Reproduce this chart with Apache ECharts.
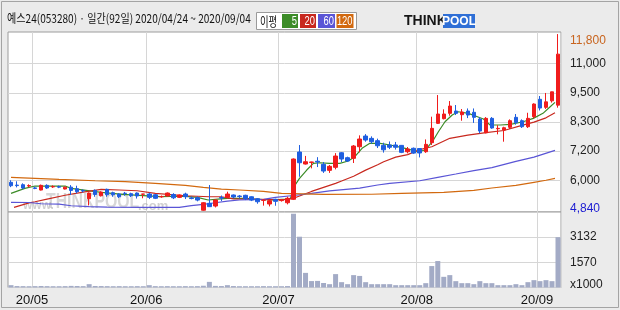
<!DOCTYPE html>
<html><head><meta charset="utf-8">
<script src="https://cdn.jsdelivr.net/npm/echarts@6/dist/echarts.min.js"></script>
<style>html,body{margin:0;padding:0;background:#ebebeb;}#c{width:620px;height:310px;}</style>
</head><body><div id="c"></div>
<script>
const year = '20';
const dates = ['04/24','04/27','04/28','04/29','05/04','05/06','05/07','05/08','05/11','05/12','05/13','05/14','05/15','05/18','05/19','05/20','05/21','05/22','05/25','05/26','05/27','05/28','05/29','06/01','06/02','06/03','06/04','06/05','06/08','06/09','06/10','06/11','06/12','06/15','06/16','06/17','06/18','06/19','06/22','06/23','06/24','06/25','06/26','06/29','06/30','07/01','07/02','07/03','07/06','07/07','07/08','07/09','07/10','07/13','07/14','07/15','07/16','07/17','07/20','07/21','07/22','07/23','07/24','07/27','07/28','07/29','07/30','07/31','08/03','08/04','08/05','08/06','08/07','08/10','08/11','08/12','08/13','08/14','08/18','08/19','08/20','08/21','08/24','08/25','08/26','08/27','08/28','08/31','09/01','09/02','09/03','09/04'];

const opens = [5960,5850,5865,5815,5740,5655,5840,5780,5790,5695,
 5770,5707,5640,5313,5640,5430,5683,5550,5498,5530,
 5510,5537,5490,5498,5470,5390,5420,5480,5367,5498,
 5345,5350,4860,5132,5025,5360,5367,5460,5420,5447,
 5390,5313,5250,5105,5290,5240,5155,5290,7153,6680,
 6745,6790,6668,6431,6550,7125,6930,6904,7362,7783,
 7691,7600,7415,7430,7430,7415,7165,7300,7290,7165,
 7520,8283,8466,8677,8768,8623,8768,8718,8453,7911,
 8480,8070,8020,8125,8520,8388,8150,8545,9230,8913,
 9170,9000];
const closes = [5825,5830,5735,5830,5720,5840,5735,5790,5770,5770,
 5640,5590,5620,5537,5480,5577,5470,5470,5392,5515,
 5430,5420,5500,5367,5330,5400,5537,5350,5460,5392,
 5320,5260,5155,5000,5262,5340,5498,5380,5400,5313,
 5260,5195,5262,5235,5210,5262,5330,6877,6731,6770,
 6760,6760,6404,6589,6995,6877,6800,7390,7665,7625,
 7560,7400,7240,7340,7340,7140,7270,7110,7115,7455,
 8086,8650,8650,8965,8678,8730,8610,8520,7980,8480,
 8100,8086,8110,8388,8310,8150,8480,9044,8886,9130,
 9525,11010];
const lows = [5770,5760,5690,5760,5690,5640,5700,5740,5730,5680,
 5460,5525,5560,5050,5390,5400,5390,5390,5340,5430,
 5380,5320,5330,5300,5300,5350,5400,5300,5340,5300,
 5290,5210,4840,4990,4970,5220,5320,5330,5330,5260,
 5220,5116,5040,5010,5036,5200,5090,5262,6180,6660,
 6510,6560,6330,6330,6470,6760,6760,6720,7140,7560,
 7480,7310,7130,7270,7250,7110,7100,7080,6940,7120,
 7430,8257,8440,8584,8610,8386,8490,8300,7890,7890,
 8070,7850,7560,8060,8230,8100,8100,8480,8790,8850,
 9100,8900];
const highs = [6040,6000,5920,5880,5790,5870,5880,5840,5830,5790,
 5850,5825,5680,5560,5680,5600,5710,5590,5530,5580,
 5550,5560,5500,5550,5500,5440,5560,5530,5480,5550,
 5400,5400,5180,5853,5290,5440,5590,5480,5460,5470,
 5410,5340,5290,5290,5315,5300,5390,6900,7428,7000,
 6770,6950,6760,6640,7110,7150,6970,7428,7810,7860,
 7770,7680,7520,7570,7550,7430,7350,7330,7300,7650,
 8545,9398,8835,9162,9005,8847,8870,8870,8530,8530,
 8530,8210,8150,8440,8650,8440,8700,9070,9360,9480,
 9530,11800];
// volume, x1000 shares
const volumes = [145,90,85,80,85,95,85,80,80,85,
 100,95,85,207,95,90,85,80,85,80,
 80,85,80,145,85,80,85,80,80,85,
 80,85,110,350,100,90,145,90,80,80,
 80,80,85,80,80,80,90,4590,3160,910,
 400,410,280,207,833,332,207,770,720,332,
 207,207,207,207,145,145,145,145,145,270,
 1334,1647,665,770,395,270,270,207,395,270,
 270,145,145,145,207,145,332,457,395,457,
 395,3132];

// moving averages: [day index, value]
const ma5 = [[0,5525],[2.3,5723],[4,5813],[9,5813],[10,5723],[15,5565],[18.6,5486],[24.8,5392],[28.6,5419],[31,5368],[32.8,5262],[34.4,5301],[36,5329],[38.9,5329],[40.6,5301],[43.4,5262],[45.6,5301],[46.5,5330],[47,5760],[48,6117],[49.2,6444],[50.3,6708],[51.4,6731],[53,6708],[54.7,6708],[56.1,6798],[57.2,6968],[58.4,7299],[59.7,7496],[61.4,7496],[63.1,7429],[65.6,7299],[67.7,7165],[68.9,7232],[70.1,7559],[71.1,7953],[72.2,8347],[73.4,8611],[74.4,8741],[76.1,8678],[77.6,8544],[78.6,8453],[79.7,8217],[81.4,8217],[83.1,8244],[85.2,8347],[86.9,8480],[88.5,8678],[89.7,8938],[90.5,9111]];
const ma20 = [[0.5,4970],[3,5150],[4,5195],[6,5300],[9,5450],[12,5570],[15,5683],[18,5656],[21,5627],[24,5525],[29,5431],[33,5391],[35,5391],[37,5310],[45,5273],[46,5290],[47,5330],[48,5420],[50,5600],[52,5760],[54,5920],[55,6010],[57,6200],[59,6440],[61,6650],[62,6771],[64,6950],[66,7050],[68,7250],[70,7362],[73,7693],[76,7822],[79,7920],[82,8000],[85,8200],[87,8330],[89,8500],[90.5,8701]];
const ma60 = [[0,5171],[3,5165],[5,5116],[8,5100],[10,5037],[13,5000],[16,4986],[22,4974],[28,4974],[30,5040],[32,5092],[34,5155],[36,5222],[38,5262],[42,5289],[44,5368],[47,5440],[50,5525],[53,5620],[58,5730],[61,5853],[63,5920],[68,6022],[71,6156],[74,6286],[77,6420],[80,6540],[84,6786],[87,6950],[90.5,7220]];
const ma120 = [[0,6156],[4,6117],[8,6077],[14,6022],[19,5983],[24,5920],[29,5840],[32,5762],[35,5695],[38,5656],[42,5600],[45,5525],[52,5486],[60,5490],[65,5525],[72,5565],[77,5640],[80,5735],[84,5840],[87,5960],[89,6040],[90.5,6117]];

const priceTickValues = [6040,7188,8336,9484,10632];
const priceTickLabels = ['6,000','7,200','8,300','9,500','11,000'];
const volTickValues = [0,1566,3132];
const volTickLabels = ['x1000','1570','3132'];
const maNames = ['5','20','60','120'];
const maColors = ['#3c8c28','#c8281e','#5a55d6','#d2690f'];

const title = '예스24(053280) · 일간(92일) 2020/04/24 ~ 2020/09/04';

const ohlc = opens.map((o,i)=>[o, closes[i], lows[i], highs[i]]);
const highMark = Math.max(...highs);
const lowMark = Math.min(...lows);
const monthStarts = dates.map((d,i)=> i>0 && d.slice(0,2)!==dates[i-1].slice(0,2) ? i : -1).filter(i=>i>=0);
const isMonthStart = (i)=> monthStarts.indexOf(i) >= 0;
const comma = n => String(n).replace(/\B(?=(\d{3})+(?!\d))/g, ',');

const chart = echarts.init(document.getElementById('c'), null, {renderer:'canvas', width:620, height:310});
const FONT = '"Liberation Sans", Arial, sans-serif';
const gridCommon = {left:8, right:59, show:true, backgroundColor:'#ffffff', borderColor:'#9c9c9c', borderWidth:1};
const splitStyle = {color:'#d6d6d6', width:1};

const graphics = [
  {type:'rect', shape:{x:1.5,y:1.5,width:617,height:306}, style:{fill:'none', stroke:'#a4a4a4', lineWidth:1}, z:-1, silent:true},
  {type:'text', x:7, y:18, scaleX:0.84, style:{text:title, font:'12px "Noto Sans CJK KR", sans-serif', fill:'#111', verticalAlign:'middle'}},
  {type:'rect', shape:{x:256.5,y:12.5,width:100,height:17}, style:{fill:'#fff', stroke:'#9a9a9a', lineWidth:1}},
  {type:'text', x:260, y:21, scaleX:0.72, style:{text:'이평', font:'13px "Noto Sans CJK KR", sans-serif', fill:'#111', verticalAlign:'middle'}},
  {type:'text', x:404, y:21, style:{text:'THINK', font:'bold 14px ' + FONT, fill:'#151515', verticalAlign:'middle'}},
  {type:'rect', shape:{x:443,y:14,width:32,height:14}, style:{fill:'#2f6fd6'}},
  {type:'text', x:459, y:21.5, style:{text:'POOL', font:'bold 12px ' + FONT, fill:'#fff', align:'center', verticalAlign:'middle'}},
  // watermark
  {type:'text', x:23, y:206, z:1, style:{text:'www.', font:'bold 12px ' + FONT, fill:'rgba(150,150,150,0.45)', verticalAlign:'middle'}},
  {type:'text', x:46, y:202, z:1, scaleX:0.72, style:{text:'THINKPOOL', font:'bold 22px ' + FONT, fill:'rgba(160,160,160,0.42)', verticalAlign:'middle'}},
  {type:'text', x:138, y:206, z:1, style:{text:'.com', font:'bold 13px ' + FONT, fill:'rgba(150,150,150,0.45)', verticalAlign:'middle'}}
];
const boxX = [282,300,318,336.5], boxW = [16,16,17,17];
maNames.forEach((n,k)=>{
  graphics.push({type:'rect', shape:{x:boxX[k], y:14, width:boxW[k], height:14}, style:{fill:maColors[k]}});
  graphics.push({type:'text', x:boxX[k]+boxW[k]-1, y:21.5, scaleX:0.78, style:{text:n, font:'12px ' + FONT, fill:'#fff', align:'right', verticalAlign:'middle'}});
});

const maSeries = [ma5, ma20, ma60, ma120].map((d,k)=>({
  type:'line', name:'MA'+maNames[k], xAxisIndex:2, yAxisIndex:0, data:d, showSymbol:false, symbol:'none',
  lineStyle:{color:maColors[k], width:1.2}, z:3, silent:true
}));

chart.setOption({
  animation:false,
  backgroundColor:'#ebebeb',
  graphic: graphics,
  grid: [Object.assign({top:32, height:180}, gridCommon), Object.assign({top:212, height:75.5}, gridCommon)],
  xAxis: [
    {type:'category', gridIndex:0, data:dates, boundaryGap:true, axisLine:{show:false}, axisTick:{show:false}, axisLabel:{show:false},
     splitLine:{show:true, interval:(i)=>isMonthStart(i), lineStyle:splitStyle}},
    {type:'category', gridIndex:1, data:dates, boundaryGap:true, axisLine:{show:false}, axisTick:{show:false},
     axisLabel:{show:true, interval:(i)=>isMonthStart(i), formatter:(v)=> year + '/' + v.slice(0,2), fontFamily:FONT, fontSize:13, color:'#111', margin:6, padding:[0,6,0,0]},
     splitLine:{show:true, interval:(i)=>isMonthStart(i), lineStyle:splitStyle}},
    {type:'value', gridIndex:0, min:-0.5, max:91.5, show:false}
  ],
  yAxis: [
    {type:'value', gridIndex:0, position:'right', min:4790, max:11882, scale:true,
     axisLine:{show:false}, axisTick:{show:false, customValues:priceTickValues},
     splitLine:{show:true, lineStyle:splitStyle},
     axisLabel:{show:true, customValues:[lowMark].concat(priceTickValues, [highMark]), align:'left', margin:9,
       fontFamily:FONT, fontSize:12, color:'#222',
       formatter:(v)=>{
         if (v === highMark) return '{o|' + comma(v) + '}';
         if (v === lowMark) return '{b|' + comma(v) + '}';
         const k = priceTickValues.indexOf(v); return k>=0 ? priceTickLabels[k] : '';
       },
       rich:{o:{color:'#c8641e', fontSize:12, fontFamily:FONT, padding:[13,0,0,0]}, b:{color:'#1c1cd2', fontSize:12, fontFamily:FONT, padding:[0,0,4,0]}}}},
    {type:'value', gridIndex:1, position:'right', min:0, max:4698,
     axisLine:{show:false}, axisTick:{show:false, customValues:volTickValues},
     splitLine:{show:true, lineStyle:splitStyle},
     axisLabel:{show:true, customValues:volTickValues, align:'left', margin:9, fontFamily:FONT, fontSize:12, color:'#222',
       formatter:(v)=>{ const k = volTickValues.indexOf(v); return k===0 ? '{x|' + volTickLabels[k] + '}' : (k>0 ? volTickLabels[k] : ''); },
       rich:{x:{fontSize:12, fontFamily:FONT, color:'#222', padding:[0,0,5,0]}}}}
  ],
  series: [
    {type:'candlestick', xAxisIndex:0, yAxisIndex:0, data:ohlc, barWidth:4, z:4,
     itemStyle:{color:'#f01c1c', color0:'#1f5fe0', borderColor:'#f01c1c', borderColor0:'#1f5fe0', borderWidth:1}},
    {type:'bar', xAxisIndex:1, yAxisIndex:1, data:volumes, barWidth:5, itemStyle:{color:'#a3abc6'}}
  ].concat(maSeries)
});
</script>
</body></html>
